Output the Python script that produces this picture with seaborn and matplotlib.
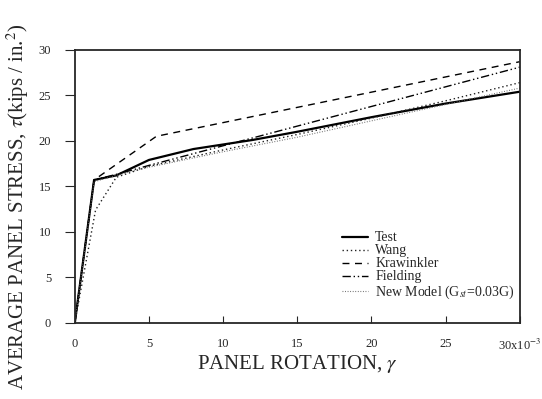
import pandas as pd
import matplotlib.pyplot as plt
import seaborn as sns

# panel rotation (x10^-3) vs. average panel stress (kips/in.^2)
test_x = [0, 1.3, 2.8, 5, 8, 12, 15, 20, 25, 30]
test_y = [0, 15.7, 16.2, 17.9, 19.1, 20.1, 21.0, 22.6, 24.1, 25.4]

wang_x = [0, 1.4, 2.8, 5, 10, 15, 20, 25, 30]
wang_y = [0, 12.4, 16.0, 17.2, 19.0, 20.7, 22.5, 24.4, 26.4]

kraw_x = [0, 1.3, 5.5, 30]
kraw_y = [0, 15.7, 20.5, 28.7]

field_x = [0, 1.3, 3, 5, 30]
field_y = [0, 15.7, 16.4, 17.3, 28.1]

new_x = [0, 1.3, 3, 5, 10, 15, 20, 25, 30]
new_y = [0, 15.5, 16.3, 17.1, 18.8, 20.4, 22.2, 24.0, 25.8]

series = ['Test', 'Wang', 'Krawinkler', 'Fielding', 'New Model (G$_{st}$=0.03G)']

frames = []
for name, xs, ys in zip(series,
                        [test_x, wang_x, kraw_x, field_x, new_x],
                        [test_y, wang_y, kraw_y, field_y, new_y]):
    frames.append(pd.DataFrame({'rot': xs, 'stress': ys, 'model': name}))
df = pd.concat(frames)

sns.set_style('ticks')
plt.rcParams['font.family'] = ['Liberation Serif', 'DejaVu Serif']
plt.rcParams['mathtext.fontset'] = 'stix'

fig = plt.figure(figsize=(5.42, 3.99), dpi=100)
ax = fig.add_axes([0.138, 0.191, 0.821, 0.684])

styles = {
    'Test': dict(ls='-', lw=1.6, color='black'),
    'Wang': dict(ls=(0, (1, 2)), lw=1.0, color='#222222'),
    'Krawinkler': dict(ls=(0, (5, 4)), lw=1.0, color='black'),
    'Fielding': dict(ls=(0, (6, 2, 1, 2, 1, 2)), lw=1.0, color='black'),
    'New Model (G$_{st}$=0.03G)': dict(ls=(0, (0.8, 1.5)), lw=0.8, color='#666666'),
}
for name in series:
    sns.lineplot(data=df[df['model'] == name], x='rot', y='stress', ax=ax,
                 label=name, estimator=None, sort=False, **styles[name])

ax.set_xlim(0, 30)
ax.set_ylim(0, 30)
ax.set_xticks([0, 5, 10, 15, 20, 25, 30])
ax.set_xticklabels(['0', '5', '10', '15', '20', '25', '30x10$^{-3}$'])
ax.set_yticks([0, 5, 10, 15, 20, 25, 30])
ax.tick_params(axis='x', direction='in', length=5, labelsize=9, pad=11)
ax.tick_params(axis='y', direction='out', length=7, labelsize=9, pad=10)
for s in ax.spines.values():
    s.set_linewidth(1.3)

ax.set_xlabel('PANEL ROTATION, $\\gamma$', fontsize=15, labelpad=0)
ax.set_ylabel('AVERAGE PANEL STRESS, $\\tau$(kips / in.$^2$)', fontsize=15)
ax.yaxis.set_label_coords(-0.099, 0.424)

leg = ax.legend(loc='upper left', frameon=False, fontsize=10, handlelength=1.9,
                handletextpad=0.5, labelspacing=0.0, borderpad=0, borderaxespad=0,
                bbox_to_anchor=(0.6, 0.335))

fig.savefig('out.png', dpi=100)
